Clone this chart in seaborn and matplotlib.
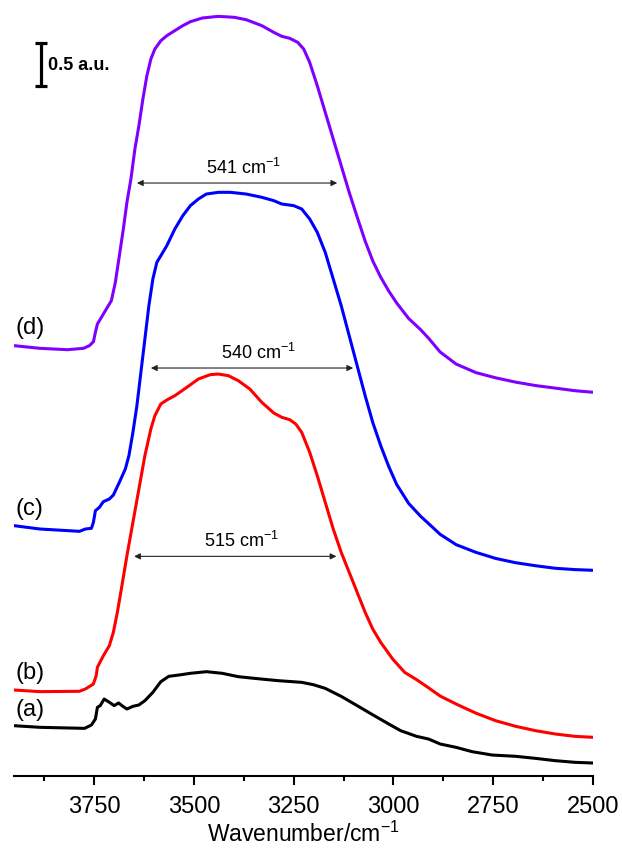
import pandas as pd
import seaborn as sns
import matplotlib.pyplot as plt
from matplotlib.ticker import MultipleLocator

# spectra (wavenumber in cm-1, absorbance in a.u., already offset)
wn_a = [3951, 3886, 3774, 3757, 3747, 3742, 3735, 3725, 3712, 3700, 3689, 3677, 3668, 3653, 3638,
        3623, 3603, 3583, 3563, 3538, 3509, 3469, 3429, 3389, 3350, 3290, 3230, 3201, 3171, 3131,
        3091, 3051, 3012, 2982, 2942, 2912, 2883, 2843, 2803, 2753, 2694, 2644, 2594, 2545, 2500]
ab_a = [0.585, 0.566, 0.554, 0.593, 0.663, 0.798, 0.818, 0.895, 0.857, 0.818, 0.849, 0.806, 0.779,
        0.810, 0.826, 0.876, 0.973, 1.097, 1.159, 1.174, 1.194, 1.213, 1.194, 1.155, 1.136, 1.109,
        1.089, 1.062, 1.019, 0.926, 0.818, 0.709, 0.605, 0.527, 0.461, 0.430, 0.372, 0.333, 0.283,
        0.244, 0.229, 0.205, 0.178, 0.159, 0.151]

wn_b = [3951, 3886, 3787, 3772, 3752, 3745, 3742, 3727, 3712, 3702, 3692, 3682, 3668, 3653, 3638,
        3623, 3608, 3598, 3583, 3568, 3548, 3518, 3489, 3459, 3439, 3414, 3389, 3360, 3330, 3300,
        3280, 3260, 3245, 3230, 3210, 3191, 3171, 3151, 3131, 3111, 3091, 3071, 3052, 3032, 3002,
        2972, 2942, 2912, 2883, 2853, 2833, 2793, 2744, 2694, 2644, 2594, 2545, 2500]
ab_b = [1.000, 0.981, 0.985, 1.012, 1.070, 1.167, 1.264, 1.399, 1.516, 1.671, 1.903, 2.174, 2.562,
        2.950, 3.337, 3.725, 4.035, 4.190, 4.326, 4.372, 4.422, 4.519, 4.616, 4.667, 4.674, 4.655,
        4.597, 4.500, 4.345, 4.221, 4.171, 4.143, 4.093, 3.996, 3.764, 3.492, 3.182, 2.872, 2.601,
        2.368, 2.136, 1.903, 1.709, 1.554, 1.360, 1.205, 1.120, 1.025, 0.930, 0.860, 0.815, 0.730,
        0.643, 0.578, 0.527, 0.488, 0.461, 0.450]

wn_c = [3951, 3886, 3787, 3772, 3757, 3752, 3747, 3737, 3727, 3712, 3702, 3687, 3672, 3663, 3653,
        3643, 3633, 3623, 3613, 3603, 3593, 3583, 3568, 3548, 3528, 3509, 3489, 3469, 3439, 3409,
        3369, 3330, 3300, 3280, 3250, 3230, 3210, 3191, 3171, 3151, 3131, 3111, 3091, 3071, 3052,
        3032, 3012, 2992, 2962, 2932, 2912, 2883, 2843, 2793, 2744, 2694, 2644, 2594, 2545, 2500]
ab_c = [2.911, 2.872, 2.845, 2.872, 2.880, 2.950, 3.085, 3.124, 3.190, 3.221, 3.267, 3.415, 3.570,
        3.725, 3.996, 4.306, 4.694, 5.081, 5.469, 5.779, 5.973, 6.050, 6.167, 6.360, 6.515, 6.632,
        6.709, 6.767, 6.787, 6.787, 6.767, 6.729, 6.690, 6.651, 6.632, 6.593, 6.477, 6.322, 6.089,
        5.779, 5.469, 5.120, 4.771, 4.422, 4.112, 3.841, 3.600, 3.390, 3.170, 3.020, 2.935, 2.810,
        2.690, 2.600, 2.530, 2.480, 2.445, 2.415, 2.400, 2.392]

wn_d = [3951, 3886, 3817, 3777, 3762, 3752, 3747, 3742, 3732, 3722, 3707, 3697, 3687, 3677, 3668,
        3658, 3648, 3638, 3628, 3618, 3608, 3598, 3583, 3568, 3548, 3528, 3509, 3479, 3439, 3399,
        3369, 3330, 3300, 3280, 3260, 3240, 3225, 3210, 3191, 3171, 3151, 3131, 3111, 3091, 3071,
        3052, 3032, 3012, 2992, 2962, 2932, 2912, 2883, 2843, 2793, 2744, 2694, 2644, 2594, 2545,
        2500]
ab_d = [5.004, 4.973, 4.957, 4.973, 5.004, 5.050, 5.159, 5.256, 5.333, 5.411, 5.527, 5.740, 6.050,
        6.360, 6.671, 6.942, 7.291, 7.562, 7.872, 8.143, 8.337, 8.453, 8.550, 8.608, 8.667, 8.725,
        8.771, 8.814, 8.833, 8.822, 8.794, 8.725, 8.647, 8.601, 8.578, 8.531, 8.453, 8.298, 8.027,
        7.717, 7.407, 7.097, 6.787, 6.500, 6.220, 5.990, 5.800, 5.640, 5.500, 5.320, 5.190, 5.090,
        4.930, 4.790, 4.690, 4.630, 4.580, 4.540, 4.510, 4.480, 4.462]

samples = ['(a)', '(b)', '(c)', '(d)']
colors = {'(a)': 'black', '(b)': '#ff0000', '(c)': '#0000ff', '(d)': '#7f00ff'}
label_y = [0.78, 1.21, 3.12, 5.22]

# FWHM arrows: label, left edge, right edge, height
fwhm_labels = ['515', '540', '541']
fwhm_left = [3650, 3608, 3643]
fwhm_right = [3143, 3101, 3141]
fwhm_y = [2.554, 4.744, 6.895]

# 1. build long table
parts = []
for name, wn, ab in zip(samples, [wn_a, wn_b, wn_c, wn_d], [ab_a, ab_b, ab_c, ab_d]):
    parts.append(pd.DataFrame({'wavenumber': wn, 'absorbance': ab, 'sample': name}))
df = pd.concat(parts, ignore_index=True)

sns.set_style('white')
plt.rcParams['font.family'] = ['Liberation Sans', 'DejaVu Sans']
plt.rcParams['mathtext.default'] = 'regular'
plt.rcParams['text.color'] = 'black'
plt.rcParams['axes.labelcolor'] = 'black'
plt.rcParams['xtick.color'] = 'black'

fig = plt.figure(figsize=(6.22, 8.53), dpi=100)
ax = fig.add_axes([14 / 622, 1 - 777 / 853, 579 / 622, 777 / 853])

sns.lineplot(data=df, x='wavenumber', y='absorbance', hue='sample', palette=colors,
             estimator=None, linewidth=2.2, legend=False, ax=ax)

ax.set_xlim(3951, 2500)
ax.set_ylim(0, 777 / 86)

# sample labels
for name, y in zip(samples, label_y):
    ax.text(3947, y, name, ha='left', va='center', fontsize=17)

# FWHM arrows
for lab, x1, x2, y in zip(fwhm_labels, fwhm_left, fwhm_right, fwhm_y):
    ax.annotate('', xy=(x1, y), xytext=(x2, y),
                arrowprops=dict(arrowstyle='<|-|>', color='#222222', lw=0.8, mutation_scale=9,
                                shrinkA=0, shrinkB=0))
    ax.text((x1 + x2) / 2 - 15, y + 0.19, f'{lab} cm$^{{-1}}$', ha='center', va='center', fontsize=13)

# scale bar
ax.errorbar(3883, 8.27, yerr=0.25, color='black', elinewidth=2.3, capsize=4.5, capthick=2.3)
ax.text(3866, 8.27, '0.5 a.u.', ha='left', va='center', fontsize=13, fontweight='bold')

# axes styling
for side in ['left', 'top', 'right']:
    ax.spines[side].set_visible(False)
ax.spines['bottom'].set_linewidth(1.5)
ax.spines['bottom'].set_color('black')
ax.set_yticks([])
ax.xaxis.set_major_locator(MultipleLocator(250))
ax.xaxis.set_minor_locator(MultipleLocator(125))
ax.tick_params(axis='x', which='major', direction='out', length=6.5, width=1.5, labelsize=17,
               pad=7, bottom=True, color='black')
ax.tick_params(axis='x', which='minor', direction='out', length=3.5, width=1.5, bottom=True,
               color='black')
ax.set_xlabel('Wavenumber/cm$^{-1}$', fontsize=16.5, labelpad=3)
ax.set_ylabel('')

plt.savefig('out.png', dpi=100)
plt.close()
